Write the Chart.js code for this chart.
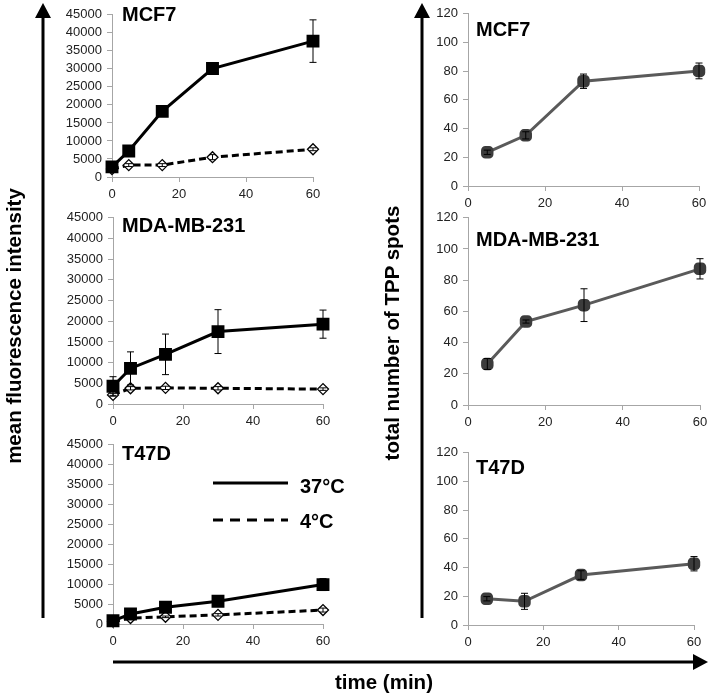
<!DOCTYPE html>
<html>
<head>
<meta charset="utf-8">
<script src="https://cdn.jsdelivr.net/npm/chart.js@4"></script>
<style>
  body { margin: 0; background: #fff; }
  #page { position: relative; width: 714px; height: 694px; overflow: hidden; font-family: "Liberation Sans", Arial, sans-serif; }
  canvas { position: absolute; }
  .title { position: absolute; font-weight: bold; font-size: 20px; color: #000; line-height: 1; white-space: nowrap; }
  .axlabel { position: absolute; font-weight: bold; font-size: 20.5px; color: #000; white-space: nowrap; line-height: 1; }
  svg { position: absolute; left: 0; top: 0; }
</style>
</head>
<body>
<div id="page">
  <svg width="714" height="694">
    <!-- big axis arrows -->
    <line x1="43" y1="618" x2="43" y2="16" stroke="#000" stroke-width="3"/>
    <polygon points="43,3 35,18 51,18" fill="#000"/>
    <line x1="422" y1="618" x2="422" y2="16" stroke="#000" stroke-width="3"/>
    <polygon points="422,3 414,18 430,18" fill="#000"/>
    <line x1="113" y1="662" x2="694" y2="662" stroke="#000" stroke-width="3"/>
    <polygon points="708,662 693,654 693,670" fill="#000"/>
    <!-- legend -->
    <line x1="213" y1="483" x2="288" y2="483" stroke="#000" stroke-width="3"/>
    <line x1="213" y1="520" x2="288" y2="520" stroke="#000" stroke-width="3" stroke-dasharray="10,7"/>
  </svg>
  <div class="title" style="left:300px;top:476px;">37°C</div>
  <div class="title" style="left:300px;top:511px;">4°C</div>

  <div class="axlabel" style="left:14px;top:326px;transform:translate(-50%,-50%) rotate(-90deg);">mean fluorescence intensity</div>
  <div class="axlabel" style="left:392px;top:333px;transform:translate(-50%,-50%) rotate(-90deg);">total number of TPP spots</div>
  <div class="axlabel" style="left:384px;top:682px;transform:translate(-50%,-50%);">time (min)</div>
</div>
<script>
// time points (min)
const timeLeft = [0, 5, 15, 30, 60];
const timeRight = [5, 15, 30, 60];

// mean fluorescence intensity, 37°C and 4°C, with error bars
const mcf7Warm = [2800, 7200, 18200, 30100, 37700];
const mcf7WarmErr = [1000, 700, 600, 1200, 5900];
const mcf7Cold = [2200, 3300, 3300, 5500, 7700];
const mcf7ColdErr = [500, 400, 400, 700, 400];

const mdaWarm = [4300, 8600, 12000, 17500, 19300];
const mdaWarmErr = [2300, 4000, 4900, 5300, 3400];
const mdaCold = [2200, 3800, 3900, 3800, 3600];
const mdaColdErr = [300, 400, 400, 400, 300];

const t47dWarm = [800, 2500, 4200, 5700, 9900];
const t47dWarmErr = [300, 300, 500, 500, 1500];
const t47dCold = [600, 1500, 1800, 2300, 3500];
const t47dColdErr = [200, 200, 200, 300, 500];

// total number of TPP spots
const mcf7Spots = [23.5, 35.3, 73, 80.2];
const mcf7SpotsErr = [1.5, 2.5, 5, 5.5];
const mdaSpots = [26.3, 53.5, 64, 87.3];
const mdaSpotsErr = [3.5, 1, 10.5, 6.5];
const t47dSpots = [18.3, 16.5, 34.8, 42.7];
const t47dSpotsErr = [1.5, 5.6, 3, 5];

const xTicks = [0, 20, 40, 60];
const fluoTicks = [0, 5000, 10000, 15000, 20000, 25000, 30000, 35000, 40000, 45000];
const spotTicks = [0, 20, 40, 60, 80, 100, 120];

const errorBars = {
  id: 'errorBars',
  afterDatasetsDraw(chart) {
    const { ctx } = chart;
    const xs = chart.scales.x, ys = chart.scales.y;
    chart.data.datasets.forEach(ds => {
      if (!ds.errors) return;
      ctx.save();
      ctx.strokeStyle = '#000';
      ctx.lineWidth = 1;
      ds.data.forEach((p, j) => {
        const e = ds.errors[j];
        if (!e) return;
        const px = xs.getPixelForValue(p.x);
        const top = ys.getPixelForValue(p.y + e);
        const bot = ys.getPixelForValue(p.y - e);
        ctx.beginPath();
        ctx.moveTo(px, top); ctx.lineTo(px, bot);
        ctx.moveTo(px - 3.5, top); ctx.lineTo(px + 3.5, top);
        ctx.moveTo(px - 3.5, bot); ctx.lineTo(px + 3.5, bot);
        ctx.stroke();
      });
      ctx.restore();
    });
  }
};

const pts = (xs, ys) => xs.map((x, i) => ({ x: x, y: ys[i] }));

function warmSet(vals, errs) {
  return {
    data: pts(timeLeft, vals), errors: errs,
    borderColor: '#000', borderWidth: 3,
    pointStyle: 'rect', pointRadius: 7, pointBackgroundColor: '#000', pointBorderColor: '#000',
    clip: false
  };
}
function coldSet(vals, errs) {
  return {
    data: pts(timeLeft, vals), errors: errs,
    borderColor: '#000', borderWidth: 3, borderDash: [7, 4],
    pointStyle: 'rectRot', pointRadius: 5.5, pointBorderWidth: 1.3,
    pointBackgroundColor: '#fff', pointBorderColor: '#000',
    clip: false
  };
}
function spotSet(vals, errs) {
  return {
    data: pts(timeRight, vals), errors: errs,
    borderColor: '#5a5a5a', borderWidth: 3,
    pointStyle: 'rectRounded', pointRadius: 5.5, pointBackgroundColor: '#3c3c3c', pointBorderColor: '#3c3c3c',
    clip: false
  };
}

const font = { family: '"Liberation Sans", Arial, sans-serif', size: 13 };
const page = document.getElementById('page');

function panel(box, yW, datasets, yMax, yTicks, title, titlePos) {
  const padTop = 10, padRight = 14, xH = 30;
  const c = document.createElement('canvas');
  const w = Math.round(box.r - box.l + yW + padRight);
  const h = Math.round(box.b - box.t + padTop + xH);
  c.width = w; c.height = h;
  c.style.left = (box.l - yW) + 'px';
  c.style.top = (box.t - padTop) + 'px';
  page.insertBefore(c, page.firstChild);

  const t = document.createElement('div');
  t.className = 'title';
  t.textContent = title;
  t.style.left = titlePos[0] + 'px';
  t.style.top = titlePos[1] + 'px';
  page.appendChild(t);

  new Chart(c, {
    type: 'line',
    data: { datasets: datasets },
    options: {
      responsive: false,
      animation: false,
      layout: { padding: { top: padTop, right: padRight, left: 0, bottom: 0 } },
      plugins: { legend: { display: false }, tooltip: { enabled: false } },
      scales: {
        x: {
          type: 'linear', min: 0, max: 60,
          afterFit: s => { s.height = xH; },
          afterBuildTicks: s => { s.ticks = xTicks.map(v => ({ value: v })); },
          border: { display: true, color: '#a6a6a6', width: 1 },
          grid: { drawOnChartArea: false, color: '#a6a6a6', tickLength: 5 },
          ticks: { color: '#222', font: font, padding: 5, maxRotation: 0, autoSkip: false }
        },
        y: {
          min: 0, max: yMax,
          afterFit: s => { s.width = yW; },
          afterBuildTicks: s => { s.ticks = yTicks.map(v => ({ value: v })); },
          border: { display: true, color: '#a6a6a6', width: 1 },
          grid: { drawOnChartArea: false, color: '#a6a6a6', tickLength: 5 },
          ticks: { color: '#222', font: font, padding: 5, autoSkip: false, callback: v => String(v) }
        }
      }
    },
    plugins: [errorBars]
  });
}

panel({ l: 112, r: 313, t: 11.7, b: 176.7 }, 60,
  [warmSet(mcf7Warm, mcf7WarmErr), coldSet(mcf7Cold, mcf7ColdErr)],
  45000, fluoTicks, 'MCF7', [122, 4]);
panel({ l: 113, r: 323, t: 215, b: 404.3 }, 60,
  [warmSet(mdaWarm, mdaWarmErr), coldSet(mdaCold, mdaColdErr)],
  45000, fluoTicks, 'MDA-MB-231', [122, 215]);
panel({ l: 113, r: 323, t: 441.7, b: 623.3 }, 60,
  [warmSet(t47dWarm, t47dWarmErr), coldSet(t47dCold, t47dColdErr)],
  45000, fluoTicks, 'T47D', [122, 443]);

panel({ l: 468, r: 699, t: 11, b: 186 }, 40,
  [spotSet(mcf7Spots, mcf7SpotsErr)], 120, spotTicks, 'MCF7', [476, 19]);
panel({ l: 468, r: 700, t: 215, b: 405 }, 40,
  [spotSet(mdaSpots, mdaSpotsErr)], 120, spotTicks, 'MDA-MB-231', [476, 229]);
panel({ l: 468, r: 694, t: 450, b: 625 }, 40,
  [spotSet(t47dSpots, t47dSpotsErr)], 120, spotTicks, 'T47D', [476, 457]);
</script>
</body>
</html>
